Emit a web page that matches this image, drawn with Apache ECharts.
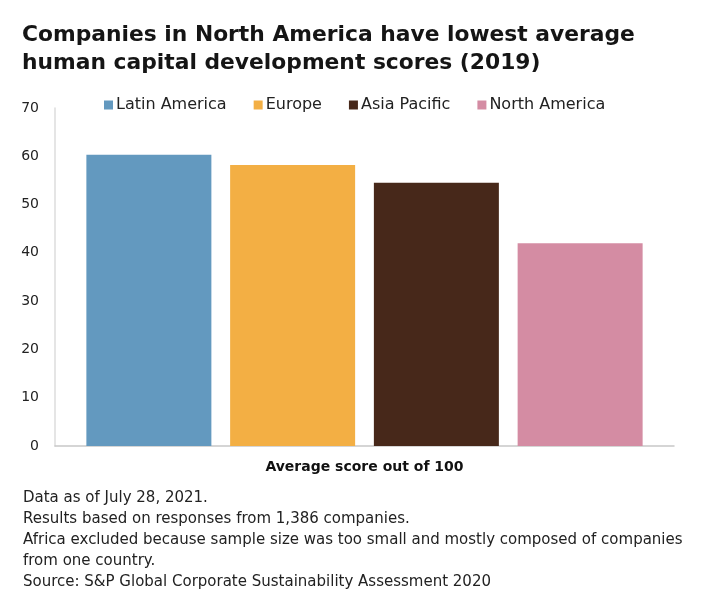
<!DOCTYPE html>
<html>
<head>
<meta charset="utf-8">
<script src="https://cdn.jsdelivr.net/npm/echarts@6/dist/echarts.min.js"></script>
<style>
    html, body { margin: 0; padding: 0; background: #fff; }
    #chart { width: 712px; height: 612px; }
</style>
</head>
<body>
<div id="chart"></div>
<script>
var categories = ['Average score out of 100'];
var regions = ['Latin America', 'Europe', 'Asia Pacific', 'North America'];
var scores = [60.3, 58.2, 54.5, 42.0];
var regionColors = ['#6399bf', '#f3af44', '#47281a', '#d48ca3'];
var yTicks = { min: 0, max: 70, interval: 10 };

var titleText = 'Companies in North America have lowest average\nhuman capital development scores (2019)';
var notes = [
    'Data as of July 28, 2021.',
    'Results based on responses from 1,386 companies.',
    'Africa excluded because sample size was too small and mostly composed of companies',
    'from one country.',
    'Source: S&P Global Corporate Sustainability Assessment 2020'
];

var fontFamily = '"DejaVu Sans", sans-serif';
var chart = echarts.init(document.getElementById('chart'));

var series = regions.map(function (name, i) {
    return {
        name: name,
        type: 'bar',
        data: [scores[i]],
        barWidth: 125,
        barGap: '15%',
        itemStyle: { color: regionColors[i] }
    };
});

var option = {
    backgroundColor: '#fff',
    animation: false,
    textStyle: { fontFamily: fontFamily },
    title: [
        {
            text: titleText,
            left: 17,
            top: 16,
            textStyle: {
                fontSize: 21.8,
                fontWeight: 'bold',
                color: '#151515',
                lineHeight: 28,
                fontFamily: fontFamily
            }
        },
        {
            text: notes.join('\n'),
            left: 18,
            top: 483,
            textStyle: {
                fontSize: 15,
                fontWeight: 'normal',
                color: '#222',
                lineHeight: 21,
                fontFamily: fontFamily
            }
        }
    ],
    legend: {
        top: 92,
        left: 99,
        itemWidth: 9,
        itemHeight: 9,
        itemGap: 27,
        icon: 'rect',
        textStyle: { fontSize: 16, color: '#222', padding: [0, 0, 0, -2] },
        data: regions
    },
    grid: {
        left: 55,
        right: 38,
        top: 108,
        bottom: 166
    },
    xAxis: {
        type: 'category',
        data: categories,
        axisLine: { lineStyle: { color: '#c8c8c8', width: 1.5 } },
        axisTick: { show: false },
        axisLabel: {
            margin: 14,
            fontSize: 14,
            fontWeight: 'bold',
            color: '#111'
        }
    },
    yAxis: {
        type: 'value',
        min: yTicks.min,
        max: yTicks.max,
        interval: yTicks.interval,
        axisLine: { show: true, lineStyle: { color: '#dcdcdc', width: 1.5 } },
        axisTick: { show: false },
        splitLine: { show: false },
        axisLabel: {
            margin: 16,
            fontSize: 14,
            color: '#222'
        }
    },
    series: series
};

chart.setOption(option);
</script>
</body>
</html>
